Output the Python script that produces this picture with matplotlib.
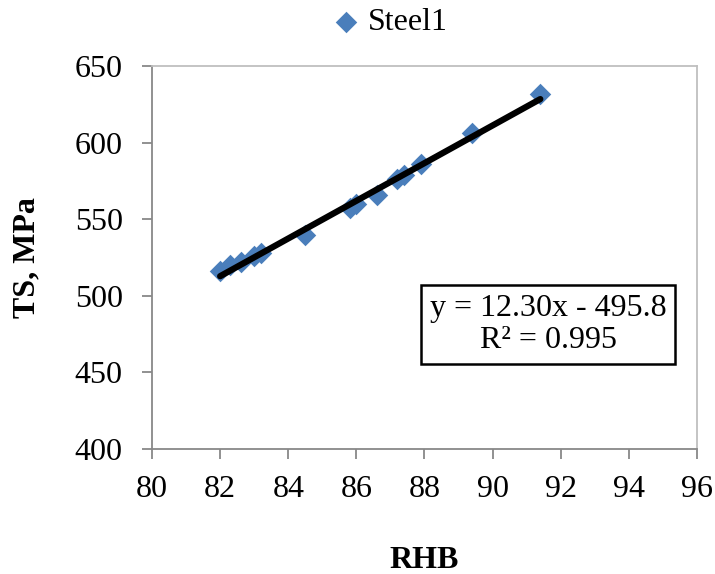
import numpy as np
import matplotlib.pyplot as plt

plt.rcParams['font.family'] = ['Liberation Serif', 'DejaVu Serif']

# hardness (RHB) vs tensile strength (MPa)
rhb = [82.0, 82.3, 82.6, 83.0, 83.2, 84.5, 85.8, 86.0, 86.6, 87.2, 87.4, 87.9, 89.4, 91.4]
ts = [516, 520, 522, 526, 528, 540, 557, 560, 566, 576, 579, 586, 606, 632]

# linear trend
slope, intercept = 12.30, -495.8
r2 = 0.995

fig = plt.figure(figsize=(7.15, 5.74), dpi=100)
ax = fig.add_axes([0.2126, 0.2178, 0.7622, 0.6672])

ax.scatter(rhb, ts, marker='D', s=120, color='#4a7ebb', zorder=2, label='Steel1',
           linewidths=0)
xf = np.array([min(rhb), max(rhb)])
ax.plot(xf, slope * xf + intercept, color='black', lw=4.5, solid_capstyle='round', zorder=3)

ax.set_xlim(80, 96)
ax.set_ylim(400, 650)
ax.set_xticks(np.arange(80, 97, 2))
ax.set_yticks(np.arange(400, 651, 50))
for side, s in ax.spines.items():
    s.set_color('#888888' if side in ('left', 'bottom') else '#bfbfbf')
    s.set_linewidth(1.3)
ax.tick_params(direction='out', length=7, width=1.3, color='#888888', labelsize=23)
ax.tick_params(axis='y', pad=14)
ax.tick_params(axis='x', pad=12)

ax.set_xlabel('RHB', fontsize=23, fontweight='bold', labelpad=30)
ax.set_ylabel('TS, MPa', fontsize=23, fontweight='bold', labelpad=24)

ax.legend(loc='center', bbox_to_anchor=(0.438, 1.113), frameon=False,
          fontsize=23, handlelength=0.8, handletextpad=0.3, borderaxespad=0)

ax.text(0.727, 0.325, 'y = %.2fx - %.1f\nR² = %.3f' % (slope, -intercept, r2),
        transform=ax.transAxes, ha='center', va='center', fontsize=23,
        multialignment='center', linespacing=1.15,
        bbox=dict(boxstyle='square,pad=0.28', fc='white', ec='black', lw=1.8))

fig.savefig('out.png', dpi=100)
